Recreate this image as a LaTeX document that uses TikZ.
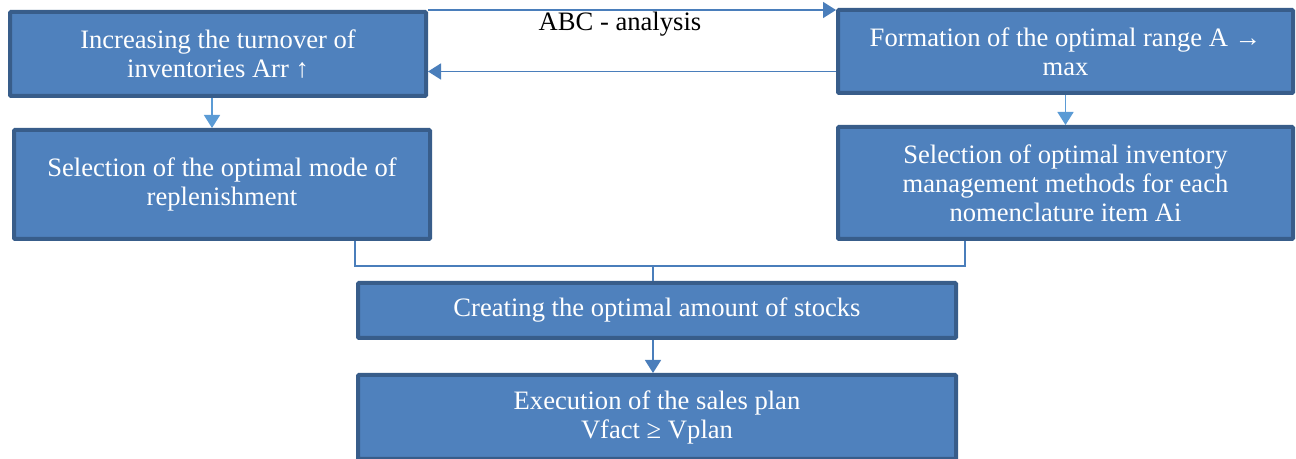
\documentclass[tikz,border=0pt]{standalone}
\usepackage{fontspec}
\setmainfont{Liberation Serif}
\usetikzlibrary{arrows.meta}
\definecolor{boxfill}{HTML}{4F81BD}
\definecolor{boxline}{HTML}{385D8A}
\definecolor{linkline}{HTML}{4A7EBB}
\definecolor{linklight}{HTML}{5B9BD5}

\tikzset{
  block/.style={draw=boxline, line width=2pt, fill=boxfill, text=white, align=center,
    font=\fontsize{13.3pt}{14.5pt}\selectfont, rounded corners=0.5pt, inner sep=0pt},
  link/.style={draw=linkline, line width=0.8pt},
  arr/.style={link, -{Triangle[length=6.5pt, width=8pt]}}
}

\begin{document}
\begin{tikzpicture}[x=0.5pt, y=-0.5pt, >=stealth]
    \useasboundingbox (0,0) rectangle (1296,459);
    % top row
    \node[block, minimum width=208pt, minimum height=42pt] (turnover) at (218,54)
        {Increasing the turnover of\\inventories Arr ↑};
    \node[block, minimum width=227.5pt, minimum height=41.5pt] (range) at (1065.5,51.5)
        {Formation of the optimal range A →\\max};
    % second row
    \node[block, minimum width=208pt, minimum height=54.5pt] (mode) at (222,184.5)
        {Selection of the optimal mode of\\replenishment};
    \node[block, minimum width=227.5pt, minimum height=56pt] (methods) at (1065.5,183)
        {Selection of optimal inventory\\management methods for each\\nomenclature item Ai};
    % bottom
    \node[block, minimum width=299pt, minimum height=27.5pt] (stocks) at (657,310.5)
        {Creating the optimal amount of stocks};
    \node[block, minimum width=299pt, minimum height=42pt] (sales) at (657,417)
        {Execution of the sales plan\\Vfact ≥ Vplan};

    \node[font=\fontsize{13.3pt}{14.5pt}\selectfont] (abc) at (620,24) {ABC - analysis};

    % links between the top boxes
    \draw[arr] (turnover.north east) -- (turnover.north east -| range.west);
    \draw[arr] ([yshift=-10pt]range.west) -- ([yshift=-10pt]range.west -| turnover.east);
    \draw[arr, draw=linklight, -{Triangle[length=6.5pt, width=8pt, fill=linklight]}]
        ([xshift=-3pt]turnover.south) -- ([xshift=-3pt]turnover.south |- mode.north);
    \draw[arr, draw=linklight, -{Triangle[length=6.5pt, width=8pt, fill=linklight]}]
        (range.south) -- (methods.north);

    % joining into the stocks box
    \coordinate (jl) at (355,266);
    \coordinate (jr) at (965,266);
    \coordinate (jm) at (653,266);
    \draw[link] (mode.south -| jl) -- (jl) -- (jr) -- (methods.south -| jr);
    \draw[link] (jm) -- (stocks.north -| jm);
    \draw[arr] (stocks.south -| jm) -- (sales.north -| jm);
\end{tikzpicture}
\end{document}
